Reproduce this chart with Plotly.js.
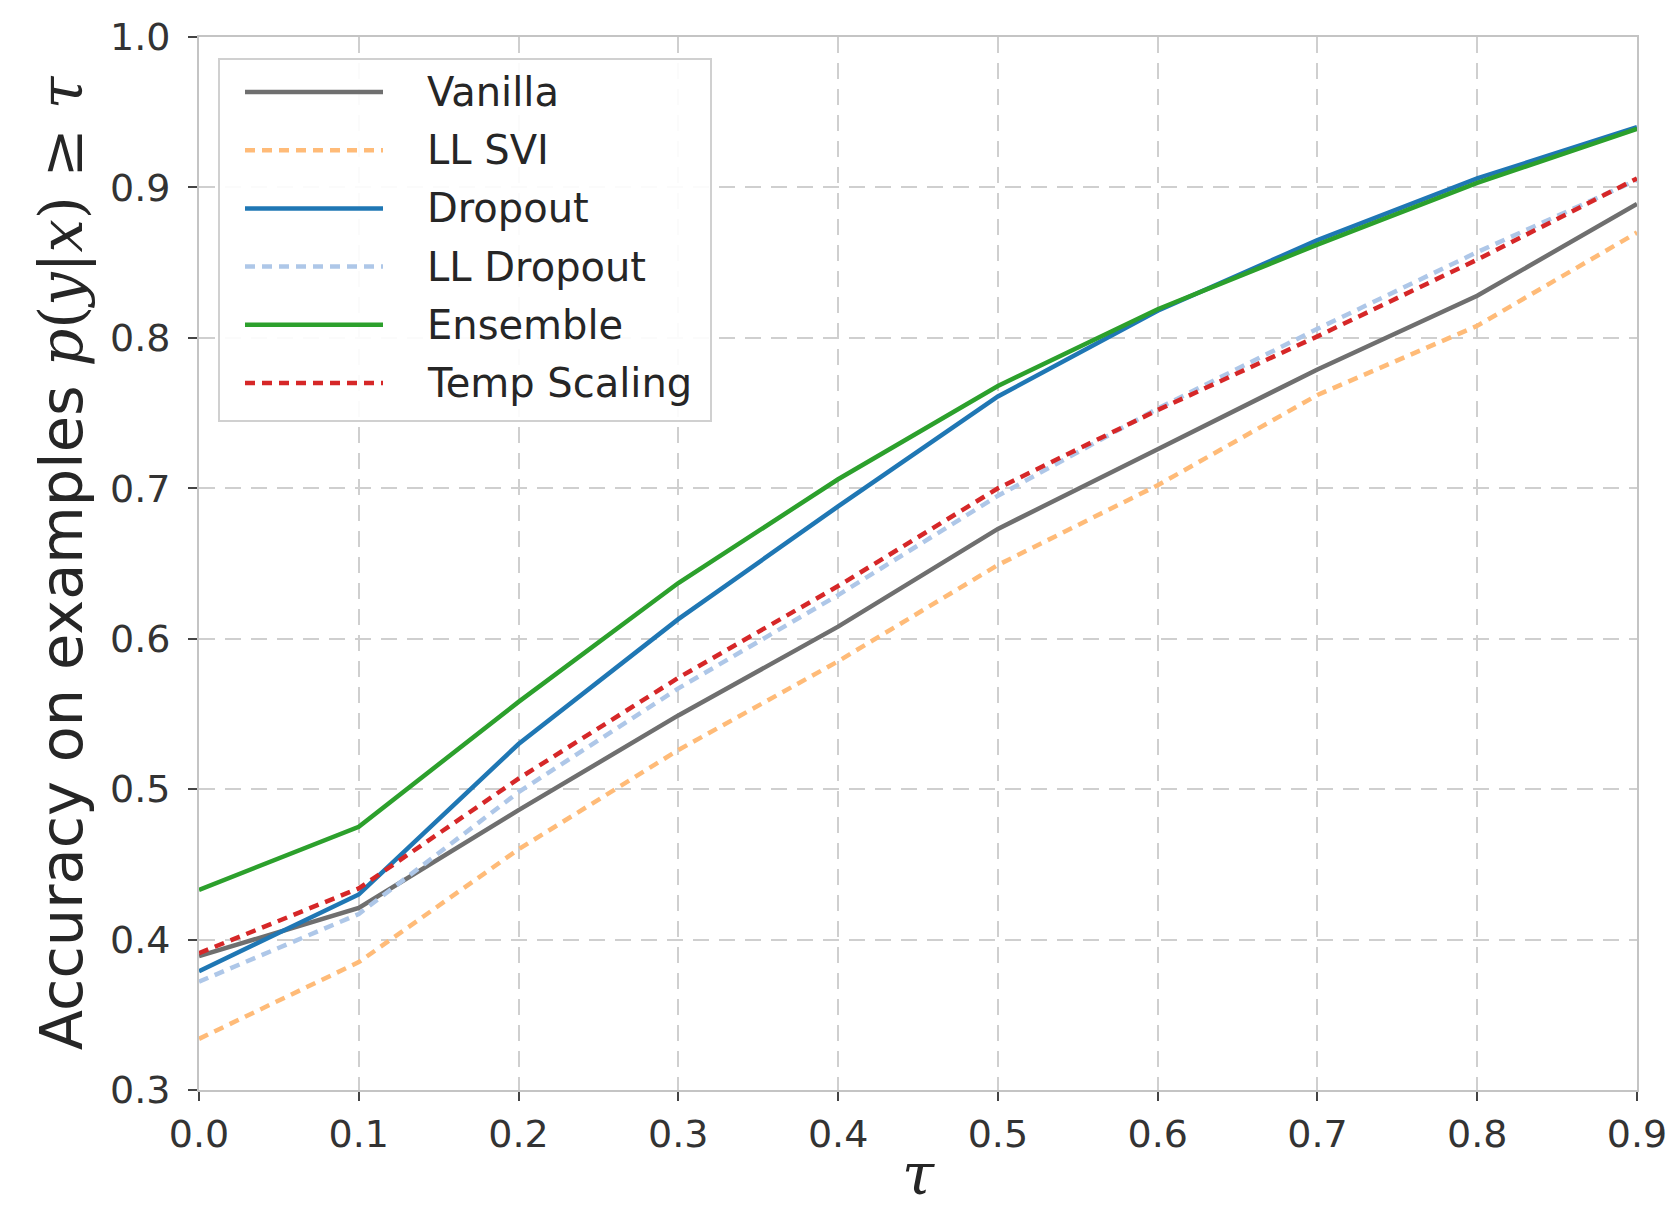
<!DOCTYPE html>
<html>
<head>
<meta charset="utf-8">
<script src="https://cdn.plot.ly/plotly-3.0.1.min.js"></script>
<style>html,body{margin:0;padding:0;background:#fff;}#chart{width:1672px;height:1210px;}</style>
</head>
<body>
<div id="chart"></div>
<script>
// ---- data ----
const tau = [0.0, 0.1, 0.2, 0.3, 0.4, 0.5, 0.6, 0.7, 0.8, 0.9];
const vanilla   = [0.389, 0.421, 0.486, 0.549, 0.608, 0.673, 0.726, 0.779, 0.828, 0.889];
const llSvi     = [0.334, 0.385, 0.460, 0.526, 0.585, 0.649, 0.702, 0.762, 0.808, 0.870];
const dropout   = [0.379, 0.430, 0.530, 0.613, 0.688, 0.761, 0.818, 0.865, 0.906, 0.940];
const llDropout = [0.372, 0.417, 0.498, 0.567, 0.629, 0.695, 0.753, 0.806, 0.857, 0.905];
const ensemble  = [0.433, 0.475, 0.558, 0.637, 0.706, 0.768, 0.819, 0.862, 0.903, 0.939];
const tempScal  = [0.391, 0.434, 0.507, 0.574, 0.635, 0.700, 0.752, 0.801, 0.852, 0.906];
const seriesNames = ["Vanilla", "LL SVI", "Dropout", "LL Dropout", "Ensemble", "Temp Scaling"];
const xTickVals = [0.0, 0.1, 0.2, 0.3, 0.4, 0.5, 0.6, 0.7, 0.8, 0.9];
const xTickText = ["0.0", "0.1", "0.2", "0.3", "0.4", "0.5", "0.6", "0.7", "0.8", "0.9"];
const yTickVals = [0.3, 0.4, 0.5, 0.6, 0.7, 0.8, 0.9, 1.0];
const yTickText = ["0.3", "0.4", "0.5", "0.6", "0.7", "0.8", "0.9", "1.0"];
const xTitleText = "τ";

// ---- styles ----
const seriesData = [vanilla, llSvi, dropout, llDropout, ensemble, tempScal];
const colors = ["#6f6f6f", "#ffbb78", "#1f77b4", "#aec7e8", "#2ca02c", "#d62728"];
const DASH = "10px,7px";
const dashes = ["solid", DASH, "solid", DASH, "solid", DASH];
const LW = 4.5;

const traces = seriesData.map((ys, i) => ({
  x: tau, y: ys, type: "scatter", mode: "lines", name: seriesNames[i],
  line: {color: colors[i], width: LW, dash: dashes[i]},
  showlegend: false, hoverinfo: "skip"
}));

// pixel -> paper helpers (plot area 199..1637 x, 37..1090 y)
const L = 199, R = 1637, T = 37, B = 1090;
const px = v => (v - L) / (R - L);
const py = v => (B - v) / (B - T);

const shapes = [];
const annotations = [];
// legend box
shapes.push({type: "rect", xref: "paper", yref: "paper", layer: "above",
  x0: px(219), x1: px(711), y0: py(421), y1: py(59),
  fillcolor: "rgba(255,255,255,0.92)", line: {color: "#d0d0d0", width: 2}});
const rowY0 = 92, rowStep = 58.2;
seriesNames.forEach((nm, i) => {
  const yy = py(rowY0 + i * rowStep);
  shapes.push({type: "line", xref: "paper", yref: "paper", layer: "above",
    x0: px(245), x1: px(383), y0: yy, y1: yy,
    line: {color: colors[i], width: LW, dash: dashes[i]}});
  annotations.push({xref: "paper", yref: "paper", x: px(425), y: yy,
    xanchor: "left", yanchor: "middle", showarrow: false, text: nm,
    font: {family: "DejaVu Sans", size: 40, color: "#262626"}});
});
// x-axis title (tau), placed low like the reference
annotations.push({xref: "paper", yref: "paper", x: 0.5, y: py(1174),
  xanchor: "center", yanchor: "middle", showarrow: false,
  text: "<i>" + xTitleText + "</i>",
  font: {family: "DejaVu Serif", size: 58, color: "#262626"}});

const math = s => '<span style="font-family:DejaVu Serif"><i>' + s + '</i></span>';
const yTitle = 'Accuracy on examples ' + math('p') +
  '<span style="font-family:DejaVu Serif">(</span>' + math('y') +
  '<span style="font-family:DejaVu Serif">|</span>' + math('x') +
  '<span style="font-family:DejaVu Serif">) ≥ </span>' + math('τ');

const layout = {
  width: 1672, height: 1210,
  margin: {l: L, r: 1672 - R, t: T, b: 1210 - B, pad: 0},
  paper_bgcolor: "#ffffff", plot_bgcolor: "#ffffff",
  font: {family: "DejaVu Sans", color: "#333333"},
  xaxis: {
    range: [0, 0.9], tickvals: xTickVals, ticktext: xTickText,
    showgrid: true, gridcolor: "#cfcfcf", gridwidth: 2, griddash: "16px,10px",
    zeroline: false, showline: true, linecolor: "#c4c4c4", linewidth: 2, mirror: true,
    ticks: "outside", ticklen: 9, tickwidth: 2, tickcolor: "#444444",
    ticklabelstandoff: 0,
    tickfont: {family: "DejaVu Sans", size: 38, color: "#333333"},
    automargin: false
  },
  yaxis: {
    range: [0.3, 1.0], tickvals: yTickVals, ticktext: yTickText,
    showgrid: true, gridcolor: "#cfcfcf", gridwidth: 2, griddash: "16px,10px",
    zeroline: false, showline: true, linecolor: "#c4c4c4", linewidth: 2, mirror: true,
    ticks: "outside", ticklen: 9, tickwidth: 2, tickcolor: "#444444",
    ticklabelstandoff: 10,
    tickfont: {family: "DejaVu Sans", size: 38, color: "#333333"},
    title: {text: yTitle, font: {family: "DejaVu Sans", size: 59, color: "#262626"}, standoff: 8},
    automargin: false
  },
  shapes: shapes,
  annotations: annotations,
  showlegend: false
};

Plotly.newPlot("chart", traces, layout, {staticPlot: true, displayModeBar: false});
</script>
</body>
</html>
